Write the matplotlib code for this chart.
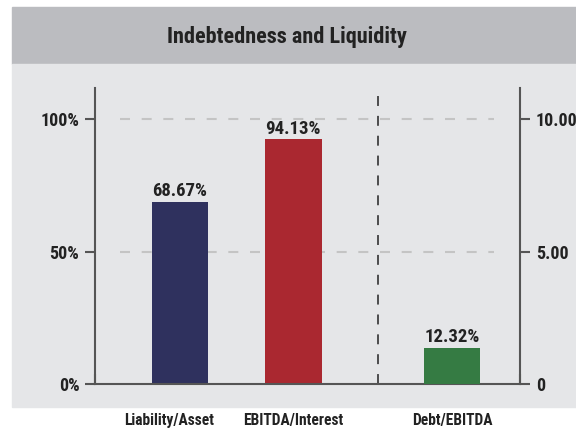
import matplotlib
matplotlib.use("Agg")
import matplotlib.pyplot as plt
import matplotlib.transforms as mtransforms
from matplotlib.patches import Rectangle

plt.rcParams["font.family"] = ["Roboto Condensed", "DejaVu Sans"]
plt.rcParams["font.weight"] = "bold"

# data
categories = ["Liability/Asset", "EBITDA/Interest", "Debt/EBITDA"]
pctValues = [68.67, 92.5]            # left axis, percent (bar heights as drawn)
ratioValues = [1.36]                 # right axis
barLabels = ["68.67%", "94.13%", "12.32%"]
barColors = ["#2f315e", "#aa2830", "#357b43"]
leftTicks = [0, 50, 100]
leftTickLabels = ["0%", "50%", "100%"]
rightTicks = [0, 5, 10]
rightTickLabels = ["0", "5.00", "10.00"]

textColor = "#222222"
spineColor = "#555555"
W, H = 576, 429

fig = plt.figure(figsize=(W / 100, H / 100), dpi=100)
fig.patch.set_facecolor("white")

# background panels (pixel coords -> figure fraction)
def addBand(x0, y0, x1, y1, color):
    fig.patches.append(Rectangle((x0 / W, 1 - y1 / H), (x1 - x0) / W, (y1 - y0) / H,
                                 transform=fig.transFigure, color=color, zorder=-10))

addBand(11.7, 7.3, 576, 64, "#bbbcc0")
addBand(11.7, 64, 576, 406.7, "#e5e6e8")

fig.text(286.5 / W, 1 - 43 / H, "Indebtedness and Liquidity", ha="center", va="baseline",
         fontsize=16, fontweight="bold", color=textColor)

ax = fig.add_axes([95 / W, 1 - 384 / H, (520 - 95) / W, (384 - 88) / H])
ax.set_facecolor("none")
ax2 = ax.twinx()

xPos = [0, 1, 2.4]
dividerX = 1.75
ax.set_xlim(-0.75, 3.0)
ax.set_ylim(0, 111.7)
ax2.set_ylim(0, 11.17)

# grid lines
for y in leftTicks[1:]:
    ax.plot([-0.527, 2.774], [y, y], color="#c4c4c4", lw=1.5, dashes=(4.8, 5.6), zorder=1)

ax.plot([dividerX, dividerX], [0, 111.7], color="#222222", lw=1.1, dashes=(6.5, 6.5), zorder=1)

barW = 0.5
labelOffsets = [4.5, 3.2, 4.5]
for i, v in enumerate(pctValues):
    ax.bar(xPos[i], v, width=barW, color=barColors[i], zorder=2)
    ax.annotate(barLabels[i], (xPos[i], v), xytext=(0, labelOffsets[i]), textcoords="offset points",
                ha="center", va="baseline", fontsize=13.5, color=textColor)
for j, v in enumerate(ratioValues):
    i = len(pctValues) + j
    ax2.bar(xPos[i], v, width=barW, color=barColors[i], zorder=2)
    ax2.annotate(barLabels[i], (xPos[i], v), xytext=(0, labelOffsets[i]), textcoords="offset points",
                 ha="center", va="baseline", fontsize=13.5, color=textColor)

ax.set_yticks(leftTicks)
ax.set_yticklabels(leftTickLabels)
ax2.set_yticks(rightTicks)
ax2.set_yticklabels(rightTickLabels)
ax.set_xticks([-0.75, 3.0])
ax.set_xticklabels([])
ax.tick_params(axis="x", direction="in", length=7, width=1.5, color=spineColor)

for a in (ax, ax2):
    a.tick_params(axis="y", length=7, width=1.5, pad=4.3, color=spineColor,
                  labelsize=13, labelcolor=textColor)
    for s in a.spines.values():
        s.set_color(spineColor)
        s.set_linewidth(1.5)
    a.spines["top"].set_visible(False)
ax.spines["right"].set_visible(False)
ax2.spines["left"].set_visible(False)
ax2.spines["bottom"].set_visible(False)

# category labels under the panel
labelShift = [-0.1, 0, 0]
trans = mtransforms.blended_transform_factory(ax.transData, fig.transFigure)
for i, c in enumerate(categories):
    ax.text(xPos[i] + labelShift[i], 1 - 424.5 / H, c, transform=trans, ha="center",
            va="baseline", fontsize=11.2, color=textColor, clip_on=False)

fig.savefig("out.png", dpi=100)
